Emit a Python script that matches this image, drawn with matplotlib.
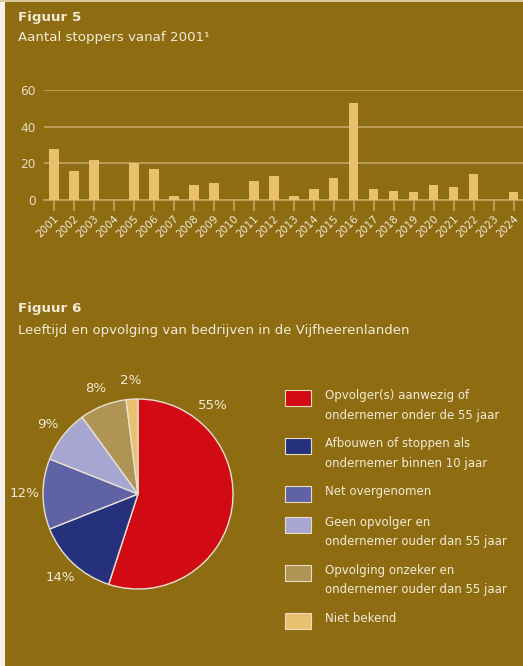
import matplotlib
matplotlib.use("Agg")
import matplotlib.pyplot as plt
from matplotlib.patches import Rectangle
import numpy as np

years = [str(y) for y in range(2001, 2025)]
stoppers = [28, 16, 22, 0, 20, 17, 2, 8, 9, 0, 10, 13, 2, 6, 12, 53, 6, 5, 4, 8, 7, 14, 0, 4]
y_ticks = [0, 20, 40, 60]

pie_labels = [
    "Opvolger(s) aanwezig of\nondernemer onder de 55 jaar",
    "Afbouwen of stoppen als\nondernemer binnen 10 jaar",
    "Net overgenomen",
    "Geen opvolger en\nondernemer ouder dan 55 jaar",
    "Opvolging onzeker en\nondernemer ouder dan 55 jaar",
    "Niet bekend",
]
pie_values = [55, 14, 12, 9, 8, 2]
pie_colors = ["#D20A14", "#26317E", "#5F62A5", "#A6A6D0", "#B09456", "#E8C06E"]

BG = "#8E6C12"
TXT = "#F3EBD8"
BAR = "#E8C06E"
GRID = "#C2A762"

W, H = 523, 666
fig = plt.figure(figsize=(W / 100, H / 100), dpi=100, facecolor=BG)
plt.rcParams['font.family'] = ['DejaVu Sans']

# overlay axes in pixel coordinates
ov = fig.add_axes([0, 0, 1, 1], zorder=-1)
ov.set_xlim(0, W)
ov.set_ylim(H, 0)
ov.axis("off")
ov.add_patch(Rectangle((0, 0), 5, H, color="#F4F1EA", lw=0))
ov.add_patch(Rectangle((0, 0), W, 2, color="#D8C89A", lw=0))

def px(x, y):
    return x / W, 1 - y / H

fig.text(*px(18, 17), "Figuur 5", color=TXT, fontsize=9.7, fontweight="bold", va="center", ha="left")
fig.text(*px(18, 38), "Aantal stoppers vanaf 2001\u00b9", color=TXT, fontsize=9.6, va="center", ha="left")
fig.text(*px(18, 309), "Figuur 6", color=TXT, fontsize=9.7, fontweight="bold", va="center", ha="left")
fig.text(*px(18, 330), "Leeftijd en opvolging van bedrijven in de Vijfheerenlanden", color=TXT, fontsize=9.5, va="center", ha="left")

# bar chart
left, right, top, bottom = 44, 523.5, 90.3, 199.7
ax = fig.add_axes([left / W, 1 - bottom / H, (right - left) / W, (bottom - top) / H])
ax.set_facecolor("none")
x = np.arange(len(years))
ax.bar(x, stoppers, width=0.48, color=BAR, zorder=3)
ax.set_xlim(-0.5, len(years) - 0.5)
ax.set_ylim(0, 60)
ax.set_yticks(y_ticks)
ax.yaxis.grid(True, color=GRID, lw=1.2, zorder=0)
ax.tick_params(axis="y", length=0, colors=TXT, labelsize=8.8, pad=6)
for lbl in ax.get_yticklabels():
    lbl.set_color("#E6DAC0")
ax.set_xticks(x)
ax.set_xticklabels(years, rotation=45, ha="right", rotation_mode="anchor", fontsize=7.6, color=TXT)
ax.tick_params(axis="x", length=8, width=1.2, color=GRID, pad=2)
for s in ["top", "right", "left"]:
    ax.spines[s].set_visible(False)
ax.spines["bottom"].set_color(GRID)
ax.spines["bottom"].set_linewidth(1.2)

# pie chart
cx, cy, r = 138, 494, 95
pax = fig.add_axes([(cx - r) / W, 1 - (cy + r) / H, 2 * r / W, 2 * r / H])
wedges, texts, autotexts = pax.pie(
    pie_values, colors=pie_colors, startangle=90, counterclock=False,
    autopct="%d%%", pctdistance=1.2,
    wedgeprops=dict(edgecolor="#E8E0D0", linewidth=1.0),
    textprops=dict(color=TXT, fontsize=9.6),
)
pax.set_xlim(-1, 1)
pax.set_ylim(-1, 1)
pax.set_aspect("equal")
ang = np.deg2rad(50)
autotexts[0].set_position((1.22 * np.cos(ang), 1.22 * np.sin(ang)))
for t in autotexts:
    t.set_clip_on(False)

# legend
sw_y = [390, 438, 486, 517, 565, 613]
for yy, col, lab in zip(sw_y, pie_colors, pie_labels):
    ov.add_patch(Rectangle((285, yy), 26, 16, facecolor=col, edgecolor="#E8DCC0", lw=0.8))
    ov.text(325, yy - 1, lab, color=TXT, fontsize=8.5, va="top", ha="left", linespacing=1.65)

fig.savefig("out.png", dpi=100, facecolor=BG)
